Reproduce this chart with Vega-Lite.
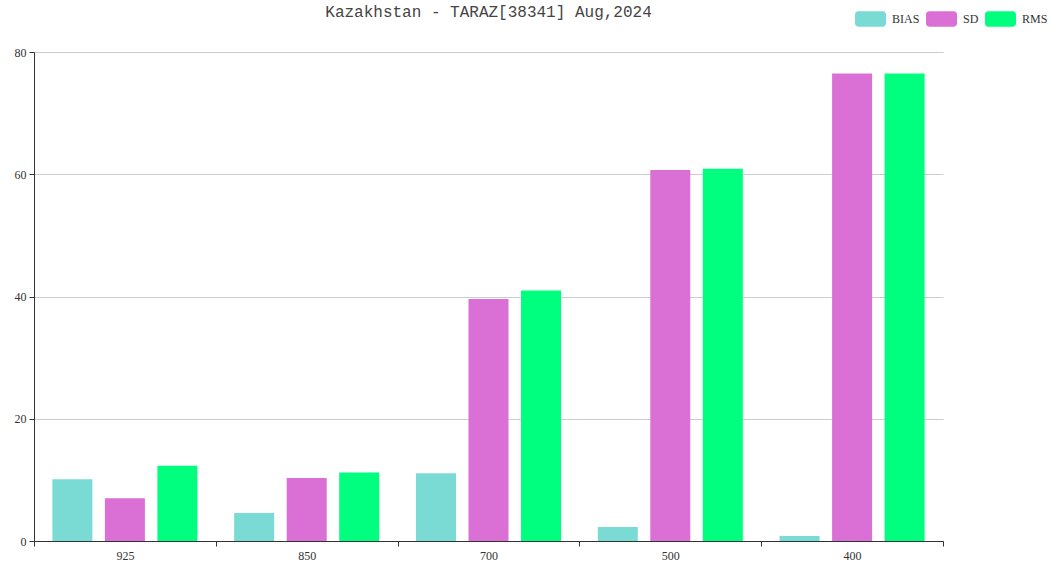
{
  "$schema": "https://vega.github.io/schema/vega-lite/v6.json",
  "width": 909,
  "height": 489,
  "autosize": "none",
  "padding": {"left": 34, "top": 52, "right": 109, "bottom": 26},
  "background": "white",
  "title": {
    "text": "Kazakhstan - TARAZ[38341] Aug,2024",
    "font": "Liberation Mono",
    "fontSize": 16,
    "fontWeight": "normal",
    "color": "#444444",
    "anchor": "middle",
    "frame": "group",
    "offset": 0,
    "dy": 17
  },
  "config": {
    "view": {"stroke": null},
    "axis": {"labelFont": "Liberation Serif", "labelFontSize": 12, "labelColor": "#333333"}
  },
  "data": {
    "values": [
      {"level": "925", "metric": "BIAS", "value": 10.1},
      {"level": "925", "metric": "SD", "value": 7.0},
      {"level": "925", "metric": "RMS", "value": 12.3},
      {"level": "850", "metric": "BIAS", "value": 4.6},
      {"level": "850", "metric": "SD", "value": 10.3},
      {"level": "850", "metric": "RMS", "value": 11.2},
      {"level": "700", "metric": "BIAS", "value": 11.1},
      {"level": "700", "metric": "SD", "value": 39.6},
      {"level": "700", "metric": "RMS", "value": 41.0},
      {"level": "500", "metric": "BIAS", "value": 2.3},
      {"level": "500", "metric": "SD", "value": 60.7},
      {"level": "500", "metric": "RMS", "value": 60.9},
      {"level": "400", "metric": "BIAS", "value": 0.8},
      {"level": "400", "metric": "SD", "value": 76.5},
      {"level": "400", "metric": "RMS", "value": 76.5}
    ]
  },
  "mark": {"type": "bar"},
  "encoding": {
    "x": {
      "field": "level",
      "type": "nominal",
      "sort": ["925", "850", "700", "500", "400"],
      "scale": {"paddingInner": 0, "paddingOuter": 0},
      "axis": {
        "title": null,
        "labelAngle": 0,
        "tickBand": "extent",
        "domainColor": "#333333",
        "tickColor": "#333333",
        "tickSize": 5,
        "labelPadding": 4
      }
    },
    "xOffset": {
      "field": "metric",
      "type": "nominal",
      "sort": ["BIAS", "SD", "RMS"],
      "scale": {"paddingInner": 0.238, "paddingOuter": 0.35}
    },
    "y": {
      "field": "value",
      "type": "quantitative",
      "scale": {"domain": [0, 80]},
      "axis": {
        "title": null,
        "values": [0, 20, 40, 60, 80],
        "gridColor": "#cccccc",
        "domainColor": "#333333",
        "tickColor": "#333333",
        "tickSize": 5,
        "labelPadding": 3
      }
    },
    "color": {
      "field": "metric",
      "type": "nominal",
      "sort": ["BIAS", "SD", "RMS"],
      "scale": {"domain": ["BIAS", "SD", "RMS"], "range": ["#7adbd4", "#da70d6", "#00ff7f"]},
      "legend": {
        "title": null,
        "orient": "none",
        "direction": "horizontal",
        "legendX": 821,
        "legendY": -49,
        "symbolType": "M-0.8,-0.5H0.8A0.2,0.2 0 0 1 1,-0.3V0.3A0.2,0.2 0 0 1 0.8,0.5H-0.8A0.2,0.2 0 0 1 -1,0.3V-0.3A0.2,0.2 0 0 1 -0.8,-0.5Z",
        "symbolSize": 961,
        "symbolStrokeWidth": 0,
        "symbolOpacity": 1,
        "labelFont": "Liberation Serif",
        "labelFontSize": 12,
        "labelColor": "#333333",
        "labelOffset": 6,
        "columnPadding": 6
      }
    }
  }
}
